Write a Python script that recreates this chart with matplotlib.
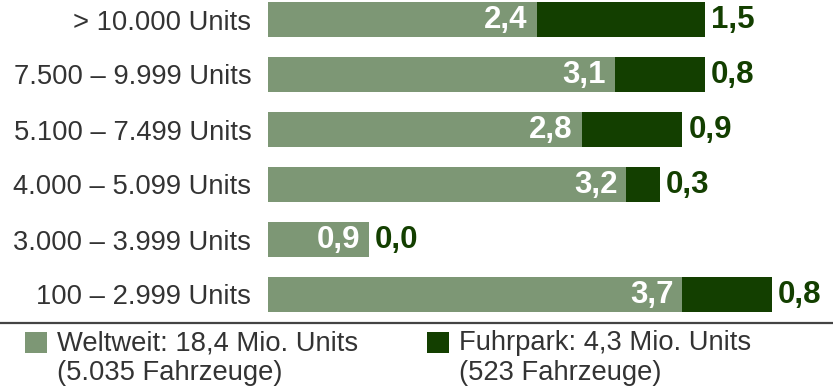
import matplotlib
matplotlib.use("Agg")
import matplotlib.pyplot as plt
from matplotlib.patches import Rectangle
from matplotlib.lines import Line2D

categories = ["> 10.000 Units", "7.500 – 9.999 Units", "5.100 – 7.499 Units",
              "4.000 – 5.099 Units", "3.000 – 3.999 Units", "100 – 2.999 Units"]
weltweit = [2.4, 3.1, 2.8, 3.2, 0.9, 3.7]
fuhrpark = [1.5, 0.8, 0.9, 0.3, 0.0, 0.8]
legend_labels = ["Weltweit: 18,4 Mio. Units\n(5.035 Fahrzeuge)",
                 "Fuhrpark: 4,3 Mio. Units\n(523 Fahrzeuge)"]

LIGHT = "#7D9775"
DARK = "#133F00"
TEXT = "#333333"

plt.rcParams['font.family'] = ['Liberation Sans', 'DejaVu Sans']

W, H = 833, 392
fig = plt.figure(figsize=(W / 100, H / 100), dpi=100)

def fx(px):
    return px / W

def fy(py):
    return 1 - py / H

ax_left, ax_top, ax_bottom = 268, 0, 322
ax = fig.add_axes([fx(ax_left), fy(ax_bottom), fx(W - ax_left), (ax_bottom - ax_top) / H])
unit = 112.0
pitch = 55.0
ax.set_xlim(0, (W - ax_left) / unit)
top = -19.5 / pitch
ax.set_ylim(top + (ax_bottom - ax_top) / pitch, top)

ypos = list(range(len(categories)))
bh = 35 / pitch
ax.barh(ypos, weltweit, height=bh, color=LIGHT, linewidth=0)
ax.barh(ypos, fuhrpark, left=weltweit, height=bh, color=DARK, linewidth=0)

px = 1 / unit
for i, (w, f) in enumerate(zip(weltweit, fuhrpark)):
    ax.text(w - 9 * px, i + 0.01, f"{w:.1f}".replace(".", ","), ha="right", va="center",
            color="white", fontsize=22.5, fontweight="bold")
    ax.text(w + f + 6 * px, i + 0.01, f"{f:.1f}".replace(".", ","), ha="left", va="center",
            color=DARK, fontsize=22.5, fontweight="bold", clip_on=False)

ax.set_yticks(ypos)
ax.set_yticklabels(categories, fontsize=19.7, color=TEXT)
ax.tick_params(axis="y", length=0, pad=12)
ax.set_xticks([])
for s in ax.spines.values():
    s.set_visible(False)
ax.patch.set_alpha(0)

# separator line
fig.add_artist(Line2D([0, 1], [fy(323), fy(323)], transform=fig.transFigure,
                      color="#444444", linewidth=1.6))

# legend
for x0, col, lab in [(25, LIGHT, legend_labels[0]), (427, DARK, legend_labels[1])]:
    fig.add_artist(Rectangle((fx(x0), fy(353)), fx(22), 21 / H, transform=fig.transFigure,
                             facecolor=col, edgecolor="none"))
    fig.text(fx(x0 + 32), fy(330), lab, ha="left", va="top", fontsize=19.7,
             color=TEXT, linespacing=1.2)

fig.savefig("out.png", dpi=100)
